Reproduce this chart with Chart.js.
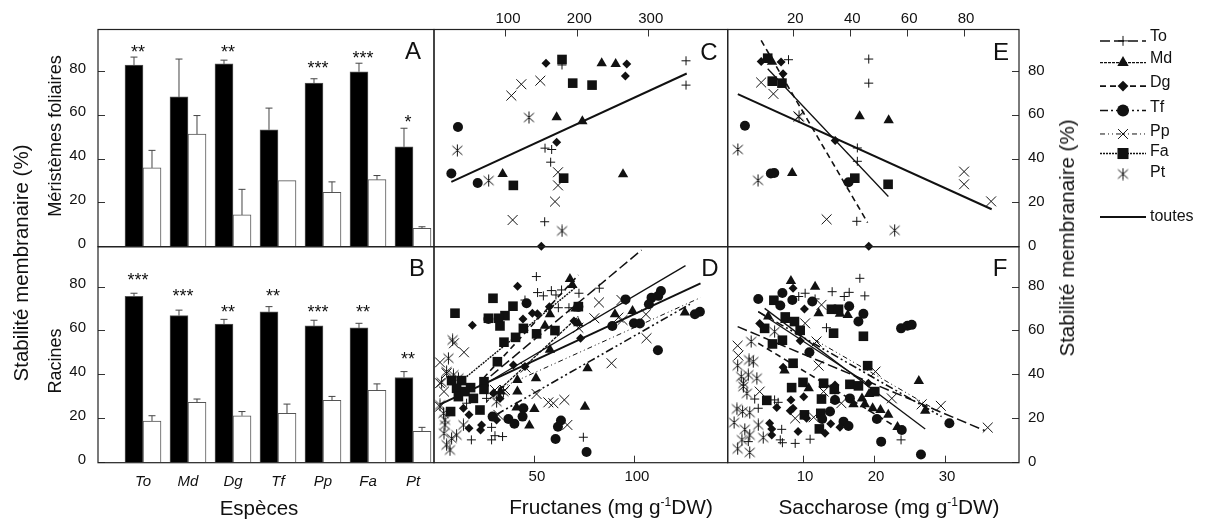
<!DOCTYPE html>
<html>
<head>
<meta charset="utf-8">
<title>Stabilité membranaire</title>
<script src="https://cdn.jsdelivr.net/npm/chart.js@4/dist/chart.umd.min.js"></script>
<style>
html, body { margin: 0; padding: 0; background: #fff; }
#page { position: relative; width: 1206px; height: 521px; overflow: hidden; font-family: "Liberation Sans", sans-serif; color: #111; }
canvas { position: absolute; left: 0; top: 0; }
.t { position: absolute; white-space: nowrap; }
.rot { transform: translate(-50%, -50%) rotate(-90deg); }
.mid { transform: translate(-50%, -50%); }
.big { font-size: 24px; }
.ax { font-size: 18px; }
sup { font-size: 12px; line-height: 0; }
</style>
</head>
<body>
<div id="page"></div>
<script>
// bars
var species = ['To', 'Md', 'Dg', 'Tf', 'Pp', 'Fa', 'Pt'];
var A_black = [83, 68.4, 83.5, 53.4, 74.7, 79.9, 45.6];
var A_white = [36, 51.4, 14.5, 30.2, 24.8, 30.6, 8.4];
var A_blackTop = [86.6, 85.7, 85.2, 63.3, 76.7, 83.8, 54.1];
var A_whiteTop = [44, 59.9, 26.2, 30.2, 29.6, 32.5, 9.1];
var A_stars = ['**', '', '**', '', '***', '***', '*'];
var A_starY = [90, 0, 90, 0, 82.5, 87, 58];

var B_black = [75.8, 67, 63.2, 68.7, 62.3, 61.4, 38.8];
var B_white = [19, 27.5, 21.4, 22.5, 28.4, 33, 14.3];
var B_blackTop = [77.2, 69.5, 65.3, 71.1, 64.9, 63.5, 41.5];
var B_whiteTop = [21.4, 29, 23.3, 26.7, 30.2, 35.9, 16.1];
var B_stars = ['***', '***', '**', '**', '***', '**', '**'];
var B_starY = [84.1, 76.8, 69.6, 76.8, 69.6, 69.6, 48];

// panel C
var C_To = [[352.3,84.9],[352.3,73.8],[154.7,45],[164,44.4],[162.6,38.6],[154.2,11.4],[178.5,83]];
var C_Md = [[234.1,83.8],[253.7,83.4],[171,59.1],[207,57.3],[95.3,33.2],[264,33.1]];
var C_Dg = [[156.1,83.8],[269.2,83.4],[267.3,78],[171,47.7],[149.5,0.2]];
var C_Tf = [[32.7,54.7],[23.4,33.4],[60.3,29.1]];
var C_Pp = [[121.5,74.2],[148.1,75.8],[107.5,69],[172.9,34],[172.9,28],[168.7,20.6],[109.3,12.2]];
var C_Fa = [[178.5,85.5],[193.5,74.7],[220.6,73.8],[180.8,31.3],[110.3,28]];
var C_Pt = [[132.2,59],[31.8,44],[75.7,30.2],[178.5,7.2]];
var C_toutes = [[23.4,29.6],[353.3,79.1]];

// panel E
var E_To = [[18.3,85.4],[46.5,85.7],[46.5,74.7],[42.5,45.1],[42.5,39],[42.3,11.6]];
var E_Md = [[12.5,84.5],[43.3,59.6],[53.5,57.8],[19.6,33.7]];
var E_Dg = [[8.7,84.6],[15.7,84.3],[16.4,79],[34.7,48.5],[46.5,0.2]];
var E_Tf = [[3,55.2],[13.3,33.7],[12.1,33.4],[39.4,29.4]];
var E_Pp = [[8.7,75],[13,69.8],[21.8,59.5],[80,34.3],[80,28.5],[89.5,20.7],[31.7,12.5]];
var E_Fa = [[11,86.1],[12.6,75.6],[16,74.7],[41.6,31.3],[53.3,28.5]];
var E_Pt = [[0.5,44.4],[7.6,30.3],[55.6,7.5],[22,59.4]];
var E_toutes = [[0.5,69.7],[89.7,17.1]];
var E_dash = [[8.7,94.2],[46.1,11]];
var E_thin = [[11,81.3],[53.4,22.9]];

// panel D
var D_To = [[50.7,84.8],[51.3,77.5],[54.2,76],[58.2,78.4],[60.5,76.4],[63.3,78.7],[72,77.2],[82.2,79.5],[61.7,70.6],[67,70.6],[45,74.1],[28.3,16.1],[18.2,10.4],[28.3,10.4],[30,12.3],[33.8,11.9],[74.2,11.6],[25.8,29.3],[15.8,27.1]];
var D_Md = [[67.5,83.7],[68.7,81],[57.5,67.6],[55,62.4],[70.3,70.3],[90,67.6],[98.8,69.1],[125,68.4],[57.5,51.4],[41.2,37.7],[50.5,38.5],[76.3,43],[41.2,32.4],[32.8,32.4],[40.8,25.1],[49.7,24.5],[75,25.5],[47.2,17],[71.7,63.5]];
var D_Dg = [[41.3,80.4],[18.7,62.6],[57.2,71],[51.2,67.8],[48.7,68.1],[44,65.5],[69.5,64.6],[39.2,44.5],[72.8,56.7],[45,43.8],[17,21.8],[23.3,17.2],[22.8,14.9],[17,15.7],[30.8,19.5],[14.2,24.8],[32.5,29.3],[29.2,31.6]];
var D_Tf = [[45.8,72.6],[95.3,74.4],[113,78.2],[108.3,75.2],[111.7,76],[107,72.2],[132.5,68.8],[130,67.6],[88.7,62.3],[99.5,63.5],[102.5,63.4],[111.5,51.2],[26.7,65.5],[44.2,24.8],[43.8,21],[36.7,19.9],[39.7,17.8],[28.8,21],[63,19.2],[61.5,16.4],[60.3,10.8],[75.8,4.9],[71.7,71.1]];
var D_Pp = [[82,73],[79.7,65.8],[93.3,74.1],[93.8,65],[105.5,67.6],[71.7,61.5],[105.8,56.7],[88.3,45.3],[14.5,50.3],[9.5,54.4],[45.3,43.3],[50.8,31.3],[56.7,27.5],[59.2,27.1],[64.7,28.6],[66.2,17.2],[31.7,21.8],[30,33.1],[35,33.1],[2.5,45.7],[5.8,40.7],[2.5,36.2],[4.5,32.4],[2.5,25.5],[91.7,66.1]];
var D_Fa = [[29,74.9],[10,68.1],[39,71.3],[26.7,65.8],[35,67],[31.7,65.8],[32.5,62.3],[44.2,61.2],[50.8,58.7],[60,60.2],[40.3,57.1],[34.5,54.9],[31.2,46],[71.7,71.1],[8.3,37.4],[13.3,37.4],[10.8,33.9],[17.8,34.2],[24.5,36.9],[24.5,33.4],[11.7,30.1],[19.2,29.3],[22.5,24],[7.8,23.3],[15,32.4]];
var D_Pt = [[8.8,55.9],[6.7,47.6],[5.8,41.5],[9.2,40],[11.7,38.5],[3.3,36.6],[4.2,22.5],[5,19.5],[4.5,13.4],[5.8,8.1],[7.5,5.8],[10.8,12.6],[14.2,17.2],[5,17.2],[8.3,11.1],[31.7,30.9],[34.2,32.4],[2.5,26.3],[30.8,27.8]];
var D_lineTo = [[22.5,35.4],[103.3,96.9]];
var D_lineMd = [[25.8,27.8],[71.7,66.6]];
var D_lineDg = [[24.2,38.5],[71.7,85.5]];
var D_lineTf = [[30.8,22],[127.5,72.2]];
var D_linePp = [[32.5,33.9],[132.8,75.2]];
var D_lineFa = [[15.8,39.2],[70.8,80.2]];
var D_lineSolid = [[24.2,35.4],[125.3,89.8]];
var D_toutes = [[2.5,26.6],[132.8,81.7]];

// panel F
var F_To = [[18,84],[14.1,77.9],[16.5,77.6],[10.3,77.2],[9.4,75.7],[15.8,75.7],[18.7,76],[11.7,74.6],[13.3,61.5],[3.2,29],[3.7,24.8],[6,28.6],[6.5,27.5],[7,15.2],[6.8,10.4],[7.1,9.1],[8.9,8.8],[11,10.7],[23.8,10.4],[2.3,9.6]];
var F_Md = [[8.3,82.8],[11.7,80.2],[5.1,66.6],[15.2,67.8],[16.3,67.3],[12.2,68.1],[26.3,37.2],[7.4,42],[27.2,23.7],[18.3,29.3],[17.1,26.6],[18.7,26.6],[19.8,24.8],[20.9,24],[22,21.8],[23.3,16.3],[19.3,31.3],[10.8,33.9],[14.5,28.6],[7.5,65]];
var F_Dg = [[8.6,79.5],[10.2,70],[3.9,63.4],[9.6,55.6],[7.2,43.5],[8.3,28.6],[6.3,25.2],[10.1,30.1],[8.6,24.8],[8.2,23.7],[10.5,20.2],[5.3,18],[5.6,15.4],[5.6,12.6],[9.3,14.2],[13.1,13.4],[13.9,17.7],[15.2,16.1],[19.2,36.2],[14.5,35.4]];
var F_Tf = [[3.7,74.6],[7.1,77.3],[6.8,71.6],[8.5,74.1],[11.3,73.4],[16.5,71.3],[18.5,67.8],[17.8,64.3],[23.8,61.2],[24.7,62.4],[25.3,62.8],[10.9,50.3],[16.6,29.3],[13.8,23.3],[12.7,19.9],[15.7,18.7],[16.4,16.7],[20.4,19.9],[23.9,14.9],[21,9.6],[26.6,3.7],[30.6,18],[14.5,28.6]];
var F_Pp = [[12.6,71.9],[11.9,55.2],[0.8,53.3],[0.9,48.8],[12.2,44.2],[20.2,41.5],[3.9,32.4],[12.9,32.4],[22.5,29.3],[26.7,26.6],[29.4,25.9],[36,16],[8.9,20.2],[11.5,20.7],[15.4,27.1],[10.3,63.5]];
var F_Fa = [[5.9,74],[14,69.9],[15,69.9],[7.5,66.4],[8.8,64.3],[9.6,60.3],[4.6,61.2],[5.7,54.1],[7.1,55.8],[14.3,59],[18.5,57.6],[8.6,45.3],[19.1,44.2],[10,36.6],[12.9,36.2],[16.6,35.7],[17.8,35],[8.4,34.2],[14.4,33.4],[20.1,32.4],[12.6,29],[4.9,28.4],[10.2,21.8],[12.5,22.5],[12.3,15.4]];
var F_Pt = [[2.7,55.2],[2.4,46.8],[3,46],[0.8,44.2],[1.3,39.2],[2.3,40],[3.5,38.5],[1.6,36.2],[2.1,31.6],[0.7,24.5],[1.5,23.3],[2.5,22.8],[0.3,18.3],[1.8,15.2],[2.5,12.6],[3.7,17.2],[4.4,11.4],[1.4,10.4],[0.8,6.3],[2.5,4.7],[6,59.7],[1.6,34.7]];
var F_lineThin = [[4.6,70.3],[27.2,15.4]];
var F_lineTf = [[3.7,68.8],[29.5,21]];
var F_toutes = [[3.7,68.8],[18.7,36.9]];
var F_lineLong = [[0.8,62],[35.6,14.6]];
var F_linePp = [[11.7,55.9],[29.1,23.3]];
var F_lineDash = [[3.7,54.4],[23.4,15.7]];

var W = 1206, H = 521;
var page = document.getElementById('page');
var tickFont = { family: '"Liberation Sans", sans-serif', size: 15 };
var ink = '#111';

function addText(txt, x, y, cls, style) {
    var d = document.createElement('div');
    d.className = 't ' + (cls || '');
    d.innerHTML = txt;
    d.style.left = x + 'px';
    d.style.top = y + 'px';
    if (style) d.style.cssText += style;
    page.appendChild(d);
}

// the Pt marker: an x with a vertical stroke
var ptMark = document.createElement('canvas');
ptMark.width = 13; ptMark.height = 13;
(function () {
    var c = ptMark.getContext('2d');
    c.strokeStyle = '#111'; c.lineWidth = 1;
    c.beginPath();
    c.moveTo(6.5, 0.5); c.lineTo(6.5, 12.5);
    c.moveTo(1.5, 2); c.lineTo(11.5, 11);
    c.moveTo(11.5, 2); c.lineTo(1.5, 11);
    c.stroke();
})();

var markers = {
    To: { pointStyle: 'cross', pointRadius: 4.5, pointBorderWidth: 1 },
    Md: { pointStyle: 'triangle', pointRadius: 6, pointBorderWidth: 0 },
    Dg: { pointStyle: 'rectRot', pointRadius: 4.5, pointBorderWidth: 0 },
    Tf: { pointStyle: 'circle', pointRadius: 5, pointBorderWidth: 0 },
    Pp: { pointStyle: 'crossRot', pointRadius: 7, pointBorderWidth: 1 },
    Fa: { pointStyle: 'rect', pointRadius: 6.8, pointBorderWidth: 0 },
    Pt: { pointStyle: ptMark, pointRadius: 6, pointBorderWidth: 0 }
};
var legendScale = { To: 1.1, Md: 1.1, Dg: 1.2, Tf: 1.2, Pp: 1, Fa: 1.15, Pt: 1 };
var lineStyles = {
    To: { borderDash: [10, 4], borderWidth: 1.5 },
    Md: { borderDash: [3, 1], borderWidth: 1.3 },
    Dg: { borderDash: [6, 4], borderWidth: 1.6 },
    Tf: { borderDash: [8, 3, 2, 3, 2, 3], borderWidth: 1.6 },
    Pp: { borderDash: [5, 3, 1, 3, 1, 3], borderWidth: 1 },
    Fa: { borderDash: [2, 1], borderWidth: 1.4 },
    solid: { borderDash: [], borderWidth: 2 },
    thin: { borderDash: [], borderWidth: 1.3 }
};

function pts(list) {
    return list.map(function (p) { return { x: p[0], y: p[1] }; });
}
function marks(name, list) {
    var m = markers[name];
    return {
        data: pts(list), showLine: false, clip: false,
        pointStyle: m.pointStyle, pointRadius: m.pointRadius, pointBorderWidth: m.pointBorderWidth,
        pointBackgroundColor: ink, pointBorderColor: ink
    };
}
function line(style, list) {
    var s = lineStyles[style];
    return {
        data: pts(list), showLine: true, clip: false, pointRadius: 0,
        borderColor: ink, borderDash: s.borderDash, borderWidth: s.borderWidth
    };
}

var frame = {
    id: 'frame',
    afterDraw: function (chart) {
        var a = chart.chartArea, c = chart.ctx;
        c.save();
        c.strokeStyle = '#222';
        c.lineWidth = 1.2;
        c.strokeRect(a.left, a.top, a.right - a.left, a.bottom - a.top);
        c.restore();
    }
};

// thin upper error bars and the significance stars
var barExtras = {
    id: 'barExtras',
    afterDatasetsDraw: function (chart) {
        var o = chart.options.extras, y = chart.scales.y, c = chart.ctx;
        c.save();
        c.strokeStyle = '#444';
        c.lineWidth = 1;
        [o.blackTop, o.whiteTop].forEach(function (tops, d) {
            var bars = chart.getDatasetMeta(d).data;
            tops.forEach(function (v, i) {
                var px = bars[i].x, top = y.getPixelForValue(v), base = y.getPixelForValue(chart.data.datasets[d].data[i].y);
                if (top === base) return;
                c.beginPath();
                c.moveTo(px, base); c.lineTo(px, top);
                c.moveTo(px - 3.5, top); c.lineTo(px + 3.5, top);
                c.stroke();
            });
        });
        c.fillStyle = ink;
        c.font = '18px "Liberation Sans", sans-serif';
        c.textAlign = 'center';
        c.textBaseline = 'middle';
        var black = chart.getDatasetMeta(0).data;
        o.stars.forEach(function (s, i) {
            if (s) c.fillText(s, black[i].x + 4, y.getPixelForValue(o.starY[i]) + 3);
        });
        c.restore();
    }
};

function newCanvas() {
    var cv = document.createElement('canvas');
    cv.width = W; cv.height = H;
    cv.style.width = W + 'px'; cv.style.height = H + 'px';
    page.appendChild(cv);
    return cv.getContext('2d');
}

function yAxis(max, position) {
    return {
        type: 'linear', min: 0, max: max, position: position,
        afterFit: function (s) { s.width = 44; },
        afterBuildTicks: function (s) { s.ticks = [0, 20, 40, 60, 80].map(function (v) { return { value: v }; }); },
        grid: { drawOnChartArea: false, drawTicks: true, tickLength: -7, tickColor: '#333', tickWidth: 1 },
        border: { display: false },
        ticks: { font: tickFont, color: ink, padding: position === 'left' ? 19 : 16, labelOffset: position === 'left' ? -3 : -1 }
    };
}
function hiddenY(max) {
    return { type: 'linear', min: 0, max: max, display: false };
}
function xAxis(min, max, values, position) {
    return {
        type: 'linear', min: min, max: max, position: position,
        afterFit: function (s) { s.height = 28; },
        afterBuildTicks: function (s) { s.ticks = values.map(function (v) { return { value: v }; }); },
        grid: { drawOnChartArea: false, drawTicks: true, tickLength: -7, tickColor: '#333', tickWidth: 1 },
        border: { display: false },
        ticks: { font: tickFont, color: ink, padding: position === 'top' ? 9 : 12, maxRotation: 0, autoSkip: false, labelOffset: 2 }
    };
}

function build(box, type, datasets, scales, yPos, xPos, extras, plugins) {
    var opts = {
        responsive: false, animation: false, events: [],
        layout: { padding: {
            left: box.l - (yPos === 'left' ? 44 : 0),
            right: W - box.r - (yPos === 'right' ? 44 : 0),
            top: box.t - (xPos === 'top' ? 28 : 0),
            bottom: H - box.b - (xPos === 'bottom' ? 28 : 0)
        } },
        plugins: { legend: { display: false }, tooltip: { enabled: false } },
        scales: scales
    };
    if (extras) opts.extras = extras;
    return new Chart(newCanvas(), { type: type, data: { datasets: datasets }, options: opts, plugins: plugins });
}

function barPanel(box, yMax, black, white, extras, showLabels) {
    var xs = species.map(function (s, i) { return i + 1; });
    var x = {
        type: 'linear', min: 0, max: 7.467, position: 'bottom', offset: false,
        afterFit: function (s) { s.height = 28; },
        afterBuildTicks: function (s) { s.ticks = xs.map(function (v) { return { value: v }; }); },
        grid: { display: false, drawTicks: false },
        border: { display: false },
        ticks: {
            display: showLabels, padding: 10, autoSkip: false, maxRotation: 0,
            font: { family: tickFont.family, size: 15, style: 'italic' }, color: ink,
            callback: function (v) { return species[v - 1] || ''; }
        }
    };
    var data = [
        { data: xs.map(function (v, i) { return { x: v, y: black[i] }; }), backgroundColor: '#000', borderColor: '#555', borderWidth: 1, barThickness: 18 },
        { data: xs.map(function (v, i) { return { x: v, y: white[i] }; }), backgroundColor: '#fff', borderColor: '#555', borderWidth: 1, barThickness: 18 }
    ];
    return build(box, 'bar', data, { x: x, y: yAxis(yMax, 'left') }, 'left', 'bottom', extras, [frame, barExtras]);
}

var bT = 29.5, bM = 246.7, bB = 462.7, x0 = 98, x1 = 434, x2 = 727.7, x3 = 1019;

barPanel({ l: x0, r: x1, t: bT, b: bM }, 99.2, A_black, A_white,
    { blackTop: A_blackTop, whiteTop: A_whiteTop, stars: A_stars, starY: A_starY }, false);
barPanel({ l: x0, r: x1, t: bM, b: bB }, 98.4, B_black, B_white,
    { blackTop: B_blackTop, whiteTop: B_whiteTop, stars: B_stars, starY: B_starY }, true);

build({ l: x1, r: x2, t: bT, b: bM }, 'scatter', [
    marks('To', C_To), marks('Md', C_Md), marks('Dg', C_Dg), marks('Tf', C_Tf),
    marks('Pp', C_Pp), marks('Fa', C_Fa), marks('Pt', C_Pt), line('solid', C_toutes)
], { x: xAxis(-0.9, 410.7, [100, 200, 300], 'top'), y: hiddenY(99.2) }, null, 'top', null, [frame]);

build({ l: x1, r: x2, t: bM, b: bB }, 'scatter', [
    marks('To', D_To), marks('Md', D_Md), marks('Dg', D_Dg), marks('Tf', D_Tf),
    marks('Pp', D_Pp), marks('Fa', D_Fa), marks('Pt', D_Pt),
    line('To', D_lineTo), line('Md', D_lineMd), line('Dg', D_lineDg), line('Tf', D_lineTf),
    line('Pp', D_linePp), line('Fa', D_lineFa), line('thin', D_lineSolid), line('solid', D_toutes)
], { x: xAxis(-0.5, 146.4, [50, 100], 'bottom'), y: hiddenY(98.4) }, null, 'bottom', null, [frame]);

build({ l: x2, r: x3, t: bT, b: bM }, 'scatter', [
    marks('To', E_To), marks('Md', E_Md), marks('Dg', E_Dg), marks('Tf', E_Tf),
    marks('Pp', E_Pp), marks('Fa', E_Fa), marks('Pt', E_Pt),
    line('solid', E_toutes), line('Dg', E_dash), line('thin', E_thin)
], { x: xAxis(-3.06, 99.3, [20, 40, 60, 80], 'top'), y: yAxis(99.2, 'right') }, 'right', 'top', null, [frame]);

build({ l: x2, r: x3, t: bM, b: bB }, 'scatter', [
    marks('To', F_To), marks('Md', F_Md), marks('Dg', F_Dg), marks('Tf', F_Tf),
    marks('Pp', F_Pp), marks('Fa', F_Fa), marks('Pt', F_Pt),
    line('thin', F_lineThin), line('Tf', F_lineTf), line('thin', F_toutes),
    line('To', F_lineLong), line('Pp', F_linePp), line('Dg', F_lineDash)
], { x: xAxis(-0.6, 40.4, [10, 20, 30], 'bottom'), y: yAxis(98.4, 'right') }, 'right', 'bottom', null, [frame]);

// legend, one short line per row, the rows are page positions
var legendRows = { To: 35.7, Md: 58, Dg: 82, Tf: 107, Pp: 131, Fa: 151, Pt: 172, toutes: 216 };
var legendSets = species.map(function (name) {
    var r = legendRows[name];
    var ds = line(name === 'Pt' ? 'thin' : name, [[0, r], [0.5, r], [1, r]]);
    var m = markers[name];
    if (name === 'Pt') ds.showLine = false;
    ds.pointStyle = m.pointStyle;
    ds.pointRadius = [0, m.pointRadius * legendScale[name], 0];
    ds.pointBorderWidth = m.pointBorderWidth;
    ds.pointBackgroundColor = ink;
    ds.pointBorderColor = ink;
    return ds;
});
legendSets.push(line('solid', [[0, legendRows.toutes], [1, legendRows.toutes]]));
build({ l: 1100, r: 1146, t: 0, b: H }, 'scatter', legendSets, {
    x: { type: 'linear', min: 0, max: 1, display: false },
    y: { type: 'linear', min: 0, max: H, reverse: true, display: false }
}, null, null, null, []);

Object.keys(legendRows).forEach(function (k) {
    addText(k, 1150, legendRows[k], '', 'transform:translateY(-50%);font-size:16px;');
});

// panel letters
addText('A', 413, 51, 'mid big');
addText('B', 417, 268, 'mid big');
addText('C', 709, 52, 'mid big');
addText('D', 710, 268, 'mid big');
addText('E', 1001, 52, 'mid big');
addText('F', 1000, 268, 'mid big');

// axis titles
addText('Stabilité membranaire (%)', 21, 263, 'rot', 'font-size:20.5px;');
addText('Méristèmes foliaires', 55, 136, 'rot', 'font-size:18.2px;');
addText('Racines', 55, 361, 'rot ax');
addText('Stabilité membranaire (%)', 1067, 238, 'rot', 'font-size:20.5px;');
addText('Espèces', 259, 508, 'mid', 'font-size:20.5px;');
addText('Fructanes (mg g<sup>-1</sup>DW)', 611, 507, 'mid', 'font-size:20.8px;');
addText('Saccharose (mg g<sup>-1</sup>DW)', 889, 507, 'mid', 'font-size:20.8px;');
</script>
</body>
</html>
